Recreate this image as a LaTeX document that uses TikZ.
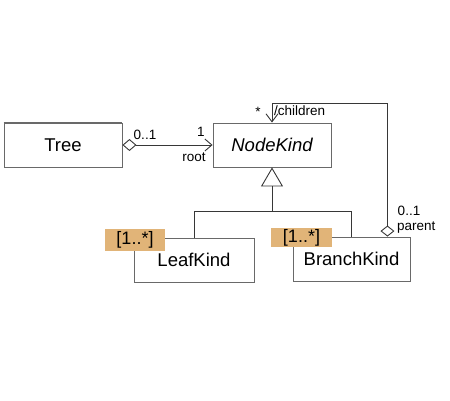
\documentclass[tikz,border=0pt]{standalone}
\usepackage{fontspec}
\setmainfont{Liberation Sans}
\usetikzlibrary{arrows.meta}
\definecolor{tagc}{RGB}{225,180,120}
\definecolor{linec}{RGB}{55,55,55}
\definecolor{boxc}{RGB}{105,105,105}
\begin{document}
\begin{tikzpicture}[x=1pt,y=-1pt,
  cls/.style={draw=boxc, line width=0.9pt, minimum width=118pt, minimum height=44pt, inner sep=0pt, font=\fontsize{18.5}{20}\selectfont},
  tagbox/.style={fill=tagc, inner sep=0pt, font=\fontsize{18}{20}\selectfont},
  lbl/.style={font=\fontsize{13.5}{15}\selectfont, inner sep=0pt},
  conn/.style={draw=linec, line width=0.9pt}]
\useasboundingbox (0,0) rectangle (450,400);
% classes
\node[cls] (tree) at (63,145) {Tree};
\draw[boxc, line width=2pt] (tree.north west) -- (tree.north east);
\node[cls, font=\fontsize{18.5}{20}\selectfont\itshape] (nk) at (272,145) {NodeKind};
\node[cls, minimum width=120pt] (leaf) at (194,260) {LeafKind};
\node[cls, minimum width=117pt] (bk) at (351.5,259) {BranchKind};
% association Tree -> NodeKind
\draw[conn, {Diamond[open,length=14pt,width=12pt]}-{Straight Barb[length=7pt,width=12pt]}] (tree.east) -- (nk.west);
\node[lbl] (m1) at (145,135) {0..1};
\node[lbl] (m2) at (201,132) {1};
\node[lbl] (r1) at (194,157) {root};
% children / parent self association
\draw[conn, {Diamond[open,length=11pt,width=14pt]}-{Straight Barb[length=8pt,width=12pt]}] ([xshift=-23pt]bk.north east) |- ([yshift=19pt]nk.north) -- (nk.north);
\node[lbl] (m3) at (258,112) {*};
\node[lbl, anchor=west] (c1) at (274,111) {/children};
\node[lbl] (m4) at (409,211) {0..1};
\node[lbl, anchor=west] (p1) at (397,228) {parent};
% generalization
\coordinate (j) at (272,211);
\draw[conn, -{Triangle[open,length=19pt,width=22pt]}] (leaf.north) |- (j) -- (nk.south);
\draw[conn] (bk.north) |- (j);
% tags
\node[tagbox, minimum width=60pt, minimum height=22pt] (t1) at (135,240) {[1..*]};
\node[tagbox, minimum width=61pt, minimum height=19pt] (t2) at (301.5,237.5) {[1..*]};
\end{tikzpicture}
\end{document}
